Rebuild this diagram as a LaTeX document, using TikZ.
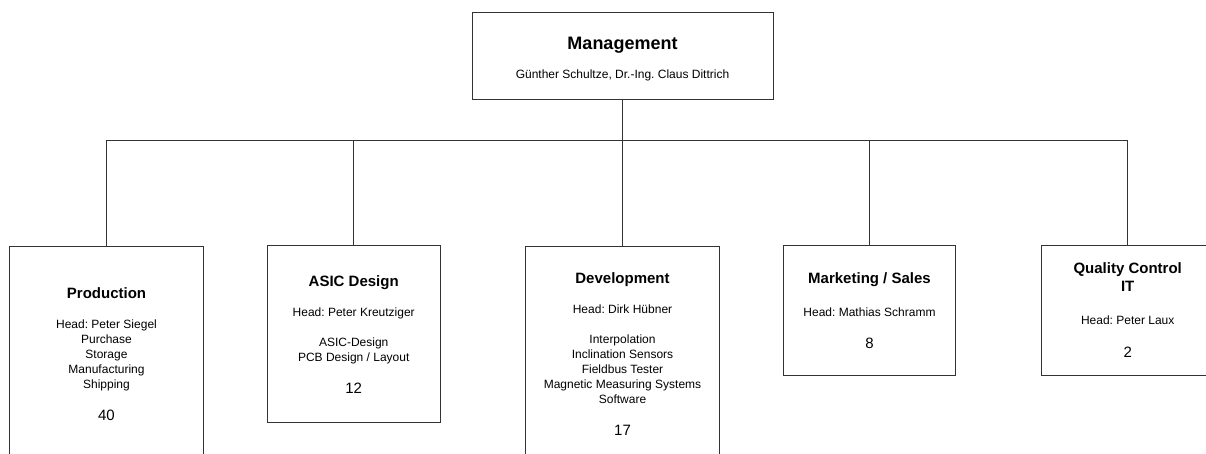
\documentclass[tikz,border=0pt]{standalone}
\usepackage{fontspec}
\setmainfont{Liberation Sans}
\usetikzlibrary{positioning}
\frenchspacing
\newcommand{\depttitle}[1]{{\fontsize{15}{18}\selectfont\bfseries #1}}
\newcommand{\staffcount}[1]{{\fontsize{15}{18}\selectfont #1}}

\begin{document}
\begin{tikzpicture}[
    x=1pt, y=-1pt,
    box/.style={rectangle, draw=black!80, line width=0.8pt, align=center, fill=white, inner sep=2pt, font=\fontsize{12}{15}\selectfont},
    smallbox/.style={box, minimum width=172.6pt},
    tallbox/.style={box, minimum width=193.3pt, minimum height=216pt},
    orgline/.style={draw=black!80, line width=0.8pt}
]
\useasboundingbox (0,0) rectangle (1206,454);
\clip (0,0) rectangle (1206,454);

% Management
\node[box, minimum width=301pt, minimum height=86.7pt] (mgmt) at (622.5,55.7)
    {{\fontsize{18}{22}\selectfont\bfseries\rule{0pt}{19pt}Management}\\[14pt]
     Günther Schultze, Dr.-Ing. Claus Dittrich};

% Departments
\node[tallbox] (prod) at (106.5,353.9)
    {\depttitle{Production}\\[15pt]
     Head: Peter Siegel\\Purchase\\Storage\\Manufacturing\\Shipping\\[17pt]
     \staffcount{40}};

\node[smallbox, minimum height=177pt] (asic) at (353.7,334.2)
    {\depttitle{ASIC Design}\\[15pt]
     Head: Peter Kreutziger\\[15pt]
     ASIC-Design\\PCB Design / Layout\\[17pt]
     \staffcount{12}};

\node[tallbox] (dev) at (622.5,354)
    {\depttitle{Development}\\[15pt]
     Head: Dirk Hübner\\[15pt]
     Interpolation\\Inclination Sensors\\Fieldbus Tester\\Magnetic Measuring Systems\\Software\\[17pt]
     \staffcount{17}};

\node[smallbox, minimum height=129.6pt] (sales) at (869.5,310.5)
    {\depttitle{Marketing / Sales}\\[18pt]
     Head: Mathias Schramm\\[17pt]
     \staffcount{8}};

\node[smallbox, minimum height=129.6pt] (qc) at (1127.7,310.5)
    {\depttitle{Quality Control}\\[3pt]\depttitle{IT}\\[18pt]
     Head: Peter Laux\\[18pt]
     \staffcount{2}};

% Connections
\draw[orgline] (mgmt) -- (dev);
\draw[orgline] (mgmt.south) -- ++(0,41) -| (prod);
\draw[orgline] (mgmt.south) -- ++(0,41) -| (asic);
\draw[orgline] (mgmt.south) -- ++(0,41) -| (sales);
\draw[orgline] (mgmt.south) -- ++(0,41) -| (qc);

\end{tikzpicture}
\end{document}
